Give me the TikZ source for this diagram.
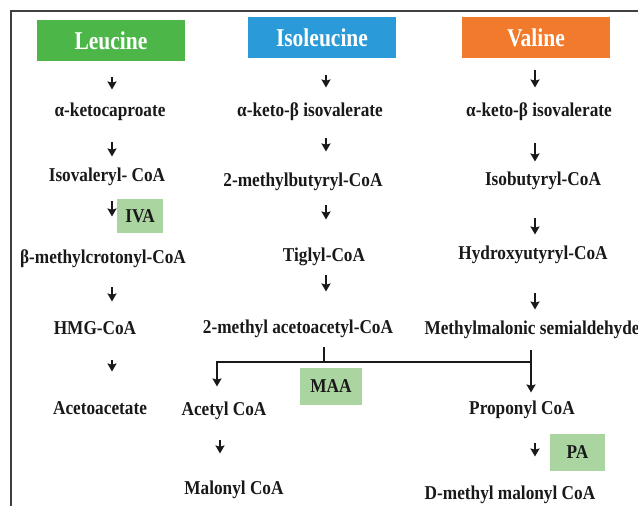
\documentclass[tikz,border=0pt]{standalone}
\usepackage{fontspec}
\setmainfont[FakeStretch=0.88]{Liberation Serif}
\newfontfamily\headfont[FakeStretch=0.84]{Liberation Serif}
\usepackage{tikz}
\usetikzlibrary{arrows.meta,positioning}
\definecolor{leugreen}{RGB}{76,182,72}
\definecolor{ileblue}{RGB}{42,155,216}
\definecolor{valorange}{RGB}{241,122,44}
\definecolor{tagcol}{RGB}{170,212,160}
\tikzset{every picture/.style={line width=0.5pt}}
\tikzset{txt/.style={font=\bfseries\fontsize{9.8}{11}\selectfont,text=black!90,inner sep=0pt,text height=8pt,text depth=1.5pt}}
\tikzset{head/.style={font=\headfont\bfseries\fontsize{12.8}{14}\selectfont,text=white,inner sep=0pt,minimum width=74pt,minimum height=20.5pt}}
\tikzset{tag/.style={fill=tagcol,font=\bfseries\fontsize{9.8}{11}\selectfont,text=black!90,inner sep=0pt}}
\tikzset{dn/.style={line width=1.2pt,black!90,-{Stealth[length=4pt,width=4.5pt,inset=0.6pt]}}}
\tikzset{bar/.style={line width=1.3pt,black!90}}

\begin{document}
\begin{tikzpicture}[x=0.5pt,y=-0.5pt]
\useasboundingbox (0,0) rectangle (638,506);
\draw[black!75,line width=0.75pt] (638,11) -- (11,11) -- (11,506);
% titles
\node[head,fill=leugreen] (L0) at (111,41) {Leucine};
\node[head,fill=ileblue] (I0) at (322,37.5) {Isoleucine};
\node[head,fill=valorange] (V0) at (536,37.5) {Valine};
% leucine
\node[txt] (L1) at (110,110) {α-ketocaproate};
\node[txt] (L2) at (107,175) {Isovaleryl- CoA};
\node[txt] (L3) at (103,257) {β-methylcrotonyl-CoA};
\node[txt] (L4) at (95,328) {HMG-CoA};
\node[txt] (L5) at (100,408) {Acetoacetate};
\node[tag,minimum width=23pt,minimum height=17pt] (IVA) at (140,216) {IVA};
% isoleucine
\node[txt] (I1) at (310,110) {α-keto-β isovalerate};
\node[txt] (I2) at (303,180) {2-methylbutyryl-CoA};
\node[txt] (I3) at (324,255) {Tiglyl-CoA};
\node[txt] (I4) at (298,327) {2-methyl acetoacetyl-CoA};
\node[txt] (Ac) at (224,409) {Acetyl CoA};
\node[txt] (Ma) at (234,488) {Malonyl CoA};
\node[tag,minimum width=31pt,minimum height=18.5pt] (MAA) at (331,386.5) {MAA};
% valine
\node[txt] (V1) at (539,110) {α-keto-β isovalerate};
\node[txt] (V2) at (543,179) {Isobutyryl-CoA};
\node[txt] (V3) at (533,253) {Hydroxyutyryl-CoA};
\node[txt,anchor=west] (V4) at (424,328) {Methylmalonic semialdehyde};
\node[txt] (Pr) at (522,408) {Proponyl CoA};
\node[txt] (DM) at (510,493) {D-methyl malonyl CoA};
\node[tag,minimum width=27.5pt,minimum height=18.5pt] (PA) at (577.5,452.5) {PA};
% arrow columns
\coordinate (aL) at (112,0);
\coordinate (aI) at (326,0);
\coordinate (aV) at (535,0);
\coordinate (aA) at (220,0);
\path[dn]
(L0.south -| aL) edge[shorten <=7.75pt,shorten >=5.25pt] (L1.north -| aL)
(L1.south -| aL) edge[shorten <=11.25pt,shorten >=4.25pt] (L2.north -| aL)
(L2.south -| aL) edge[shorten <=8.25pt,shorten >=15.25pt] (L3.north -| aL)
(L3.south -| aL) edge[shorten <=10.25pt,shorten >=8.25pt] (L4.north -| aL)
(L4.south -| aL) edge[shorten <=11.25pt,shorten >=13.25pt] (L5.north -| aL)
(I0.south -| aI) edge[shorten <=8.5pt,shorten >=6.25pt] (I1.north -| aI)
(I1.south -| aI) edge[shorten <=9.25pt,shorten >=9.25pt] (I2.north -| aI)
(I2.south -| aI) edge[shorten <=7.75pt,shorten >=12.75pt] (I3.north -| aI)
(I3.south -| aI) edge[shorten <=5.25pt,shorten >=12.75pt] (I4.north -| aI)
(V0.south -| aV) edge[shorten <=6pt,shorten >=6.25pt] (V1.north -| aV)
(V1.south -| aV) edge[shorten <=11.75pt,shorten >=3.75pt] (V2.north -| aV)
(V2.south -| aV) edge[shorten <=14.75pt,shorten >=4.25pt] (V3.north -| aV)
(V3.south -| aV) edge[shorten <=15.25pt,shorten >=4.25pt] (V4.north -| aV)
(Pr.south -| aV) edge[shorten <=12.75pt,shorten >=13.25pt] (DM.north -| aV)
(Ac.south -| aA) edge[shorten <=10.75pt,shorten >=12.25pt] (Ma.north -| aA);
% split
\coordinate (jL) at (217,362);
\coordinate (jM) at (324,362);
\coordinate (jR) at (531,362);
\draw[bar,shorten <=5.25pt] (jM |- I4.south) -- (jM);
\draw[bar,-{Stealth[length=4pt,width=4.5pt,inset=0.6pt]},shorten >=6.25pt] (jR) -- (jL) -- (jL |- Ac.north);
\draw[bar,-{Stealth[length=4pt,width=4.5pt,inset=0.6pt]},shorten <=6.25pt,shorten >=2.75pt] (jR |- V4.south) -- (jR |- Pr.north);
\end{tikzpicture}
\end{document}
